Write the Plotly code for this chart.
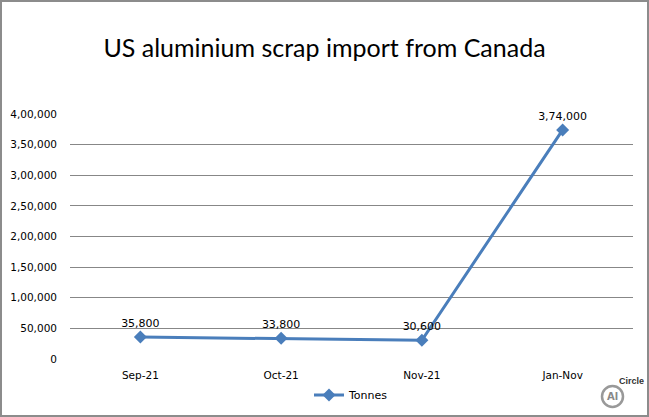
import plotly.graph_objects as go

categories = ["Sep-21", "Oct-21", "Nov-21", "Jan-Nov"]
tonnes = [35800, 33800, 30600, 374000]
tick_vals = [0, 50000, 100000, 150000, 200000, 250000, 300000, 350000, 400000]


def indian(n):
    s = str(int(n))
    if len(s) <= 3:
        return s
    last3 = s[-3:]
    rest = s[:-3]
    parts = []
    while len(rest) > 2:
        parts.insert(0, rest[-2:])
        rest = rest[:-2]
    if rest:
        parts.insert(0, rest)
    return ",".join(parts) + "," + last3


def western(n):
    return f"{int(n):,}"


tick_text = [indian(v) for v in tick_vals]
label_text = [western(v) if v < 100000 else indian(v) for v in tonnes]

W, H = 649, 417
ML, MR, MT, MB = 70, 16, 114, 58
PW = W - ML - MR
PH = H - MT - MB


def xp(px):
    return (px - ML) / PW


def yp(py):
    return (H - MB - py) / PH


fig = go.Figure()
fig.add_trace(go.Scatter(
    x=categories, y=tonnes, mode="lines+markers+text", name="Tonnes",
    line=dict(color="#4A7EBB", width=3),
    marker=dict(symbol="diamond", size=10, color="#4A7EBB"),
    text=label_text, textposition="top center",
    textfont=dict(family="DejaVu Sans", size=11, color="#000000"),
    cliponaxis=False,
))

fig.update_layout(
    width=W, height=H,
    margin=dict(l=ML, r=MR, t=MT, b=MB, autoexpand=False),
    paper_bgcolor="white", plot_bgcolor="white",
    title=dict(text="US aluminium scrap import from Canada", x=0.5, xanchor="center",
               y=0.885, yanchor="middle",
               font=dict(family="Lato", size=25, color="#000000")),
    xaxis=dict(range=[-0.5, 3.5], showgrid=False, showline=False, zeroline=False,
               tickfont=dict(family="DejaVu Sans", size=10.5, color="#000000"),
               ticks="", ticklabelstandoff=8),
    yaxis=dict(range=[0, 400000], tickvals=tick_vals, ticktext=tick_text,
               showgrid=True, gridcolor="#878787", gridwidth=1, zeroline=False,
               showline=False, ticks="", ticklabelstandoff=12,
               tickfont=dict(family="DejaVu Sans", size=10.5, color="#000000")),
    showlegend=True,
    legend=dict(orientation="h", x=0.5, xanchor="center", y=yp(395), yanchor="middle",
                font=dict(family="DejaVu Sans", size=11, color="#000000")),
    shapes=[dict(type="rect", xref="paper", yref="paper", x0=xp(1), x1=xp(648),
                 y0=yp(416), y1=yp(1), line=dict(color="#8c8c8c", width=2)),
            dict(type="circle", xref="paper", yref="paper",
                 x0=xp(602), x1=xp(623), y0=yp(407), y1=yp(386),
                 line=dict(color="#999999", width=2.5))],
    annotations=[
        dict(text="<b>Al</b>", xref="paper", yref="paper", x=xp(612.5), y=yp(396.5),
             xanchor="center", yanchor="middle",
             showarrow=False, font=dict(family="DejaVu Sans", size=10, color="#888888")),
        dict(text="<b>Circle</b>", xref="paper", yref="paper", x=xp(631), y=yp(381),
             xanchor="center", yanchor="middle",
             showarrow=False, font=dict(family="Liberation Sans", size=9, color="#333333")),
    ],
)

fig.write_html("out.html")
